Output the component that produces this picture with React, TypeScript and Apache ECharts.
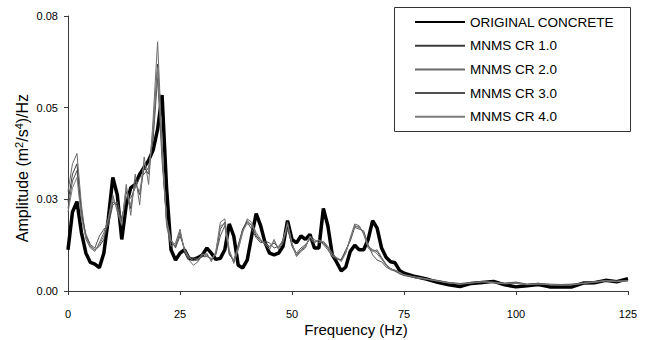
import React, { useEffect, useRef } from "react";
import * as echarts from "echarts";

const FREQ = [
  0, 1, 2, 3, 4, 5, 6, 7, 8, 9,
  10, 11, 12, 13, 14, 15, 16, 17, 18, 19,
  20, 21, 22, 23, 24, 25, 26, 27, 28, 29,
  30, 31, 32, 33, 34, 35, 36, 37, 38, 39,
  40, 41, 42, 43, 44, 45, 46, 47, 48, 49,
  50, 51, 52, 53, 54, 55, 56, 57, 58, 59,
  60, 61, 62, 63, 64, 65, 66, 67, 68, 69,
  70, 71, 72, 73, 74, 75,
  77.5, 80, 82.5, 85, 87.5, 90, 92.5, 95, 97.5, 100,
  102.5, 105, 107.5, 110, 112.5, 115, 117.5, 120, 122.5, 125,
];

const ORIGINAL = [
  0.012, 0.023, 0.026, 0.017, 0.011, 0.0083, 0.0078, 0.0068, 0.011, 0.021,
  0.033, 0.028, 0.015, 0.025, 0.030, 0.031, 0.034, 0.036, 0.038, 0.041,
  0.047, 0.057, 0.030, 0.012, 0.009, 0.011, 0.012, 0.0095, 0.0092, 0.0097,
  0.0105, 0.0125, 0.011, 0.0092, 0.0095, 0.012, 0.0195, 0.016, 0.0075, 0.0067,
  0.009, 0.016, 0.0225, 0.019, 0.014, 0.011, 0.0105, 0.011, 0.013, 0.0205,
  0.015, 0.014, 0.016, 0.015, 0.0165, 0.0125, 0.0125, 0.024, 0.019, 0.0105,
  0.0083, 0.0058, 0.007, 0.0115, 0.0133, 0.012, 0.012, 0.015, 0.0205, 0.0183,
  0.0125, 0.0098, 0.0085, 0.0082, 0.006, 0.0052,
  0.0042, 0.0035, 0.0025, 0.0018, 0.0013, 0.0022, 0.0025, 0.0028, 0.0018, 0.0012,
  0.0015, 0.0019, 0.0012, 0.0012, 0.0012, 0.0023, 0.0024, 0.0031, 0.0027, 0.0036,
];

const CR1 = [
  0.026, 0.034, 0.037, 0.023, 0.016, 0.013, 0.012, 0.013, 0.015, 0.020,
  0.026, 0.025, 0.020, 0.029, 0.024, 0.032, 0.028, 0.036, 0.034, 0.046,
  0.066, 0.040, 0.020, 0.014, 0.013, 0.017, 0.012, 0.0095, 0.009, 0.009,
  0.0105, 0.0105, 0.009, 0.011, 0.018, 0.020, 0.011, 0.0085, 0.013, 0.018,
  0.0205, 0.019, 0.016, 0.0145, 0.014, 0.013, 0.014, 0.0125, 0.015, 0.019,
  0.013, 0.0105, 0.012, 0.013, 0.0155, 0.0145, 0.0145, 0.014, 0.0125, 0.0105,
  0.0095, 0.009, 0.0115, 0.015, 0.019, 0.0185, 0.017, 0.013, 0.012, 0.0115,
  0.0095, 0.0075, 0.0065, 0.006, 0.0055, 0.0048,
  0.004, 0.0036, 0.003, 0.0024, 0.002, 0.0023, 0.0026, 0.0024, 0.0021, 0.0022,
  0.0018, 0.002, 0.0019, 0.0017, 0.0018, 0.0022, 0.0026, 0.003, 0.0028, 0.003,
];

const CR2 = [
  0.029, 0.037, 0.040, 0.025, 0.015, 0.0125, 0.0115, 0.014, 0.017, 0.021,
  0.028, 0.023, 0.019, 0.031, 0.022, 0.034, 0.025, 0.039, 0.031, 0.050,
  0.0725, 0.043, 0.019, 0.013, 0.014, 0.018, 0.0115, 0.009, 0.0075, 0.0085,
  0.0105, 0.011, 0.0085, 0.0115, 0.020, 0.021, 0.012, 0.008, 0.012, 0.017,
  0.021, 0.020, 0.017, 0.015, 0.0135, 0.012, 0.015, 0.012, 0.014, 0.020,
  0.014, 0.010, 0.0115, 0.0125, 0.016, 0.015, 0.014, 0.0145, 0.013, 0.011,
  0.0095, 0.0088, 0.011, 0.0155, 0.0195, 0.019, 0.0165, 0.0125, 0.0115, 0.012,
  0.0098, 0.0078, 0.0066, 0.0058, 0.0052, 0.0046,
  0.0038, 0.0034, 0.0029, 0.0023, 0.0021, 0.0025, 0.0027, 0.0025, 0.0022, 0.0024,
  0.0019, 0.0021, 0.0018, 0.0018, 0.0019, 0.0023, 0.0025, 0.0029, 0.0027, 0.0029,
];

const CR3 = [
  0.024, 0.032, 0.035, 0.022, 0.0165, 0.0135, 0.0125, 0.016, 0.018, 0.019,
  0.025, 0.026, 0.021, 0.027, 0.027, 0.030, 0.033, 0.034, 0.036, 0.044,
  0.062, 0.038, 0.021, 0.015, 0.0125, 0.016, 0.0125, 0.010, 0.0095, 0.0095,
  0.010, 0.010, 0.0095, 0.0105, 0.016, 0.019, 0.0105, 0.009, 0.0135, 0.018,
  0.020, 0.018, 0.0155, 0.014, 0.0145, 0.014, 0.0125, 0.013, 0.0145, 0.018,
  0.0135, 0.011, 0.0125, 0.0135, 0.015, 0.014, 0.015, 0.0135, 0.012, 0.010,
  0.0092, 0.0092, 0.012, 0.0145, 0.0185, 0.018, 0.0175, 0.0135, 0.0105, 0.009,
  0.0085, 0.007, 0.0062, 0.0058, 0.005, 0.0045,
  0.0039, 0.0035, 0.0031, 0.0025, 0.0022, 0.0024, 0.0028, 0.0026, 0.0023, 0.0026,
  0.002, 0.0022, 0.002, 0.0019, 0.002, 0.0024, 0.0027, 0.0031, 0.0029, 0.0031,
];

const CR4 = [
  0.023, 0.030, 0.033, 0.021, 0.0155, 0.013, 0.012, 0.0135, 0.016, 0.021,
  0.027, 0.024, 0.0195, 0.030, 0.025, 0.031, 0.029, 0.037, 0.035, 0.047,
  0.065, 0.041, 0.0205, 0.0145, 0.0135, 0.0175, 0.0118, 0.0098, 0.0088, 0.0092,
  0.0108, 0.0102, 0.0092, 0.0112, 0.019, 0.0195, 0.0115, 0.0088, 0.0125, 0.0175,
  0.0195, 0.0195, 0.0165, 0.0148, 0.0138, 0.0128, 0.0145, 0.0125, 0.0148, 0.0195,
  0.0138, 0.0102, 0.0118, 0.0128, 0.0158, 0.0142, 0.0148, 0.0142, 0.0128, 0.0102,
  0.0098, 0.0085, 0.0112, 0.0152, 0.0188, 0.0188, 0.0168, 0.0128, 0.0118, 0.0108,
  0.0092, 0.0076, 0.0064, 0.0061, 0.0054, 0.0047,
  0.0041, 0.0035, 0.0029, 0.0024, 0.002, 0.0023, 0.0027, 0.0024, 0.0021, 0.0023,
  0.0019, 0.002, 0.0019, 0.0017, 0.0018, 0.0022, 0.0026, 0.003, 0.0028, 0.003,
];

const SERIES_NAMES = [
  "ORIGINAL CONCRETE",
  "MNMS CR 1.0",
  "MNMS CR 2.0",
  "MNMS CR 3.0",
  "MNMS CR 4.0",
];
const SERIES_VALUES = [ORIGINAL, CR1, CR2, CR3, CR4];
const SERIES_COLORS = ["#000000", "#3c3c3c", "#6a6a6a", "#505050", "#7c7c7c"];
const SERIES_WIDTHS = [3.5, 1, 1, 1, 1];

const X_TITLE = "Frequency (Hz)";
const Y_TITLE = "Amplitude (m{sup|2}/s{sup|4})/Hz";

const FONT = "Arial, 'Liberation Sans', sans-serif";

export default function App() {
  const ref = useRef<HTMLDivElement>(null);

  useEffect(() => {
    if (!ref.current) return;
    const chart = echarts.init(ref.current, undefined, { renderer: "svg" });

    const series = SERIES_NAMES.map((name, i) => ({
      name,
      type: "line",
      data: FREQ.map((f, k) => [f, SERIES_VALUES[i][k]]),
      symbol: "none",
      showSymbol: false,
      smooth: false,
      z: i === 0 ? 2 : 3,
      lineStyle: { color: SERIES_COLORS[i], width: SERIES_WIDTHS[i] },
      itemStyle: { color: SERIES_COLORS[i] },
    }));

    chart.setOption({
      animation: false,
      backgroundColor: "#ffffff",
      grid: { left: 68, right: 25, top: 16, bottom: 49 },
      xAxis: {
        type: "value",
        min: 0,
        max: 125,
        interval: 25,
        axisLine: { lineStyle: { color: "#3a3a3a", width: 1 } },
        axisTick: { show: true, length: 4, lineStyle: { color: "#3a3a3a" } },
        axisLabel: {
          color: "#000",
          fontSize: 11,
          fontFamily: FONT,
          margin: 17,
        },
        splitLine: { show: false },
      },
      yAxis: {
        type: "value",
        min: 0,
        max: 0.08,
        interval: 0.08 / 3,
        axisLine: { show: true, lineStyle: { color: "#3a3a3a", width: 1 } },
        axisTick: { show: true, length: 4, lineStyle: { color: "#3a3a3a" } },
        axisLabel: {
          color: "#000",
          fontSize: 11,
          fontFamily: FONT,
          margin: 10,
          formatter: (v: number) => v.toFixed(2),
        },
        splitLine: { show: false },
      },
      legend: {
        orient: "vertical",
        left: 394,
        top: 7,
        padding: [8, 10, 7, 20],
        itemWidth: 50,
        itemHeight: 14,
        itemGap: 9.7,
        itemStyle: { opacity: 0 },
        textStyle: { color: "#000", fontSize: 13.5, fontFamily: FONT },
        data: SERIES_NAMES,
      },
      graphic: [
        {
          type: "rect",
          shape: { x: 394.5, y: 7.5, width: 236, height: 124 },
          style: { fill: "none", stroke: "#333", lineWidth: 1 },
          z: 0,
          silent: true,
        },
        {
          type: "text",
          x: 22,
          y: 168,
          rotation: Math.PI / 2,
          style: {
            text: Y_TITLE,
            fill: "#000",
            font: `16px ${FONT}`,
            align: "center",
            verticalAlign: "middle",
            rich: {
              sup: {
                fontSize: 11,
                fontFamily: FONT,
                fill: "#000",
                verticalAlign: "top",
                padding: [0, 0, 7, 0],
              },
            },
          },
        },
        {
          type: "text",
          x: 356,
          y: 329.5,
          style: {
            text: X_TITLE,
            fill: "#000",
            font: `15px ${FONT}`,
            align: "center",
            verticalAlign: "middle",
          },
        },
      ],
      series,
    });

    return () => chart.dispose();
  }, []);

  return <div ref={ref} style={{ width: 653, height: 340, position: "absolute", left: 0, top: 0 }} />;
}
